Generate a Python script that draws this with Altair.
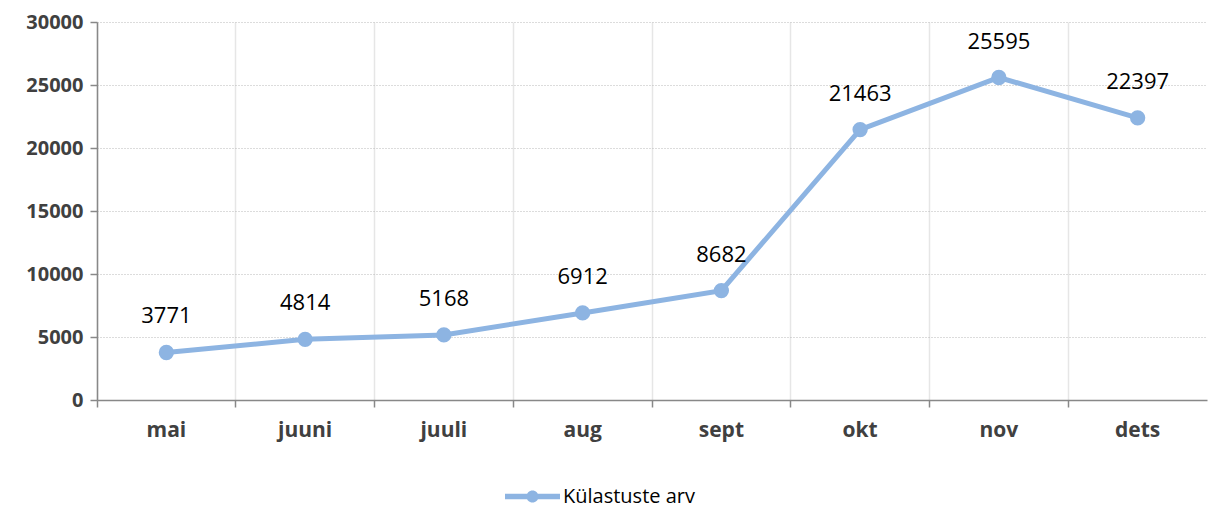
import altair as alt
import pandas as pd

months = ["mai", "juuni", "juuli", "aug", "sept", "okt", "nov", "dets"]
visits = [3771, 4814, 5168, 6912, 8682, 21463, 25595, 22397]
series_name = "Külastuste arv"
y_ticks = [0, 5000, 10000, 15000, 20000, 25000, 30000]

df = pd.DataFrame({"month": months, "visits": visits, "series": [series_name] * len(months)})

FONT = "Open Sans"
COLOR = "#8DB4E2"
W, H = 1110, 378

x_enc = alt.X(
    "month:N",
    sort=months,
    scale=alt.Scale(type="band", paddingInner=0, paddingOuter=0),
    axis=alt.Axis(
        title=None,
        bandPosition=0,
        labelAngle=0,
        labelFont=FONT,
        labelFontSize=21,
        labelFontWeight="bold",
        labelColor="#404040",
        labelPadding=12,
        grid=True,
        gridColor="#e6e6e6",
        gridWidth=1.5,
        domainColor="#888888",
        domainWidth=1.5,
        tickColor="#888888",
        tickWidth=1.5,
        tickSize=7,
    ),
)
y_enc = alt.Y(
    "visits:Q",
    scale=alt.Scale(domain=[0, 30000], nice=False),
    axis=alt.Axis(
        title=None,
        values=y_ticks,
        format="d",
        labelFont=FONT,
        labelFontSize=20,
        labelFontWeight="bold",
        labelColor="#404040",
        labelPadding=7,
        grid=True,
        gridColor="#b8b8b8",
        gridDash=[1, 2],
        gridWidth=1,
        domainColor="#888888",
        domainWidth=1.5,
        tickColor="#888888",
        tickWidth=1.5,
        tickSize=7,
    ),
)

base = alt.Chart(df).encode(x=x_enc, y=y_enc)

line = base.mark_line(color=COLOR, strokeWidth=5)
points = base.mark_point(filled=True, size=235, opacity=1).encode(
    color=alt.Color(
        "series:N",
        scale=alt.Scale(range=[COLOR]),
        legend=alt.Legend(
            title=None,
            orient="none",
            legendX=408,
            legendY=447,
            labelFont=FONT,
            labelFontSize=20,
            labelColor="#000000",
            symbolType="M-1,-0.1L1,-0.1L1,0.1L-1,0.1Z M0.22,0 A0.22,0.22 0 1,1 -0.22,0 A0.22,0.22 0 1,1 0.22,0 Z",
            symbolSize=3025,
            symbolStrokeWidth=0,
            symbolOpacity=1,
            labelOffset=3,
        ),
    )
)
labels = base.mark_text(dy=-36, fontSize=22, font=FONT, color="#000000").encode(text="visits:Q")

chart = (
    alt.layer(line, points, labels)
    .properties(
        width=W,
        height=H,
        padding={"left": 89, "top": 14, "right": 2, "bottom": 108},
        autosize=alt.AutoSizeParams(type="none"),
    )
    .configure_view(stroke=None)
)

chart.save("out.html", embed_options={"renderer": "svg", "actions": False})
